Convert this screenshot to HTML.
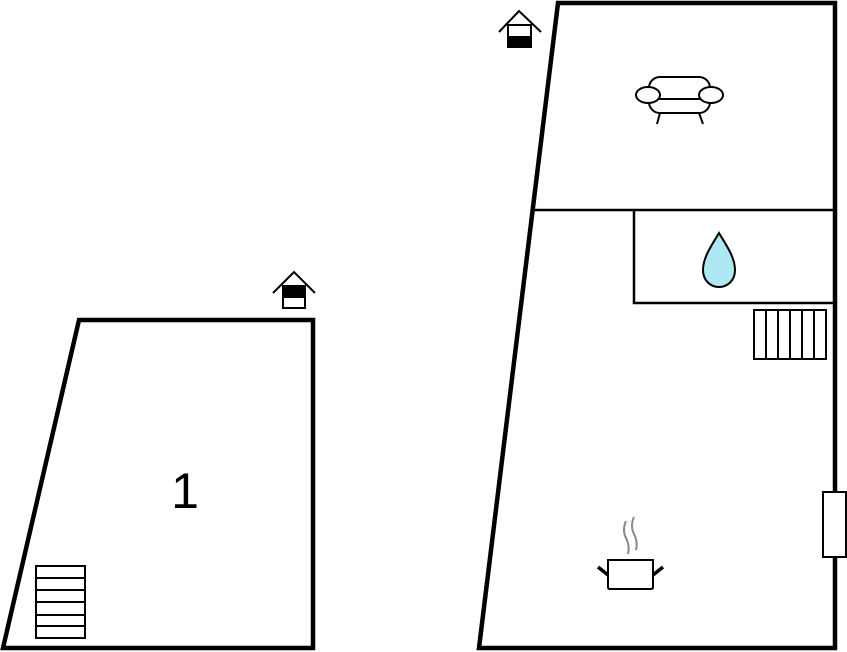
<!DOCTYPE html>
<html><head><style>html,body{margin:0;padding:0;background:#fff;width:847px;height:652px;overflow:hidden}</style></head>
<body>
<svg width="847" height="652" viewBox="0 0 847 652" xmlns="http://www.w3.org/2000/svg" style="display:block">
<g fill="none" stroke="#000" stroke-linejoin="miter">
<!-- left building -->
<polygon points="79,320 313,320 313,648 3,648" stroke-width="4.5"/>
<!-- left stairs -->
<rect x="36" y="566" width="49" height="72" stroke-width="2"/>
<line x1="36" y1="578" x2="85" y2="578" stroke-width="2"/>
<line x1="36" y1="590" x2="85" y2="590" stroke-width="2"/>
<line x1="36" y1="602" x2="85" y2="602" stroke-width="2"/>
<line x1="36" y1="615" x2="85" y2="615" stroke-width="2"/>
<line x1="36" y1="626" x2="85" y2="626" stroke-width="2"/>
<!-- left house icon -->
<polyline points="273,293 294,272 315,293" stroke-width="2"/>
<rect x="283" y="286" width="22" height="22" stroke-width="2"/>
<rect x="283" y="286" width="22" height="11" fill="#000" stroke-width="2"/>
<!-- right building -->
<polygon points="558,3 835,3 835,648 479,648" stroke-width="4.5"/>
<line x1="533" y1="210" x2="835" y2="210" stroke-width="2.5"/>
<polyline points="634,210 634,303 835,303" stroke-width="2.5"/>
<!-- right stairs -->
<rect x="754" y="310" width="72" height="49" stroke-width="2"/>
<line x1="766" y1="310" x2="766" y2="359" stroke-width="2"/>
<line x1="778" y1="310" x2="778" y2="359" stroke-width="2"/>
<line x1="790" y1="310" x2="790" y2="359" stroke-width="2"/>
<line x1="802" y1="310" x2="802" y2="359" stroke-width="2"/>
<line x1="814" y1="310" x2="814" y2="359" stroke-width="2"/>
<!-- window -->
<rect x="823" y="492" width="23" height="65" fill="#fff" stroke-width="2"/>
<!-- right house icon -->
<polyline points="499,32 519,11 541,32" stroke-width="2"/>
<rect x="508" y="25" width="23" height="22" stroke-width="2"/>
<rect x="508" y="37" width="23" height="10" fill="#000" stroke-width="2"/>
<!-- sofa -->
<rect x="649" y="77" width="61" height="36" rx="11" fill="#fff" stroke-width="2"/>
<line x1="655" y1="99" x2="702" y2="99" stroke-width="2"/>
<ellipse cx="648" cy="95" rx="12" ry="8" fill="#fff" stroke-width="2"/>
<ellipse cx="711" cy="95" rx="12" ry="8" fill="#fff" stroke-width="2"/>
<line x1="660" y1="113" x2="657" y2="124" stroke-width="2"/>
<line x1="699" y1="113" x2="703" y2="124" stroke-width="2"/>
<!-- drop -->
<path d="M719,233 C712,245 703,257 703,270 C703,281 711,287 719,287 C727,287 735,281 735,270 C735,257 726,245 719,233 Z" fill="#aee8f2" stroke-width="2"/>
<!-- pot -->
<path d="M608,560 L653,560 L653,587 Q653,589 651,589 L610,589 Q608,589 608,587 Z" fill="#fff" stroke-width="2"/>
<line x1="598" y1="567" x2="608" y2="575" stroke-width="3.5"/>
<line x1="663" y1="567" x2="653" y2="575" stroke-width="3.5"/>
<path d="M626,521 Q622,530 626,538 Q630,546 628,554" stroke="#888" stroke-width="2"/>
<path d="M634,517 Q630,526 634,534 Q638,542 636,550" stroke="#888" stroke-width="2"/>
</g>
<text x="185" y="508" font-family="Liberation Sans, sans-serif" font-size="50" text-anchor="middle" fill="#000">1</text>
</svg>
</body></html>
